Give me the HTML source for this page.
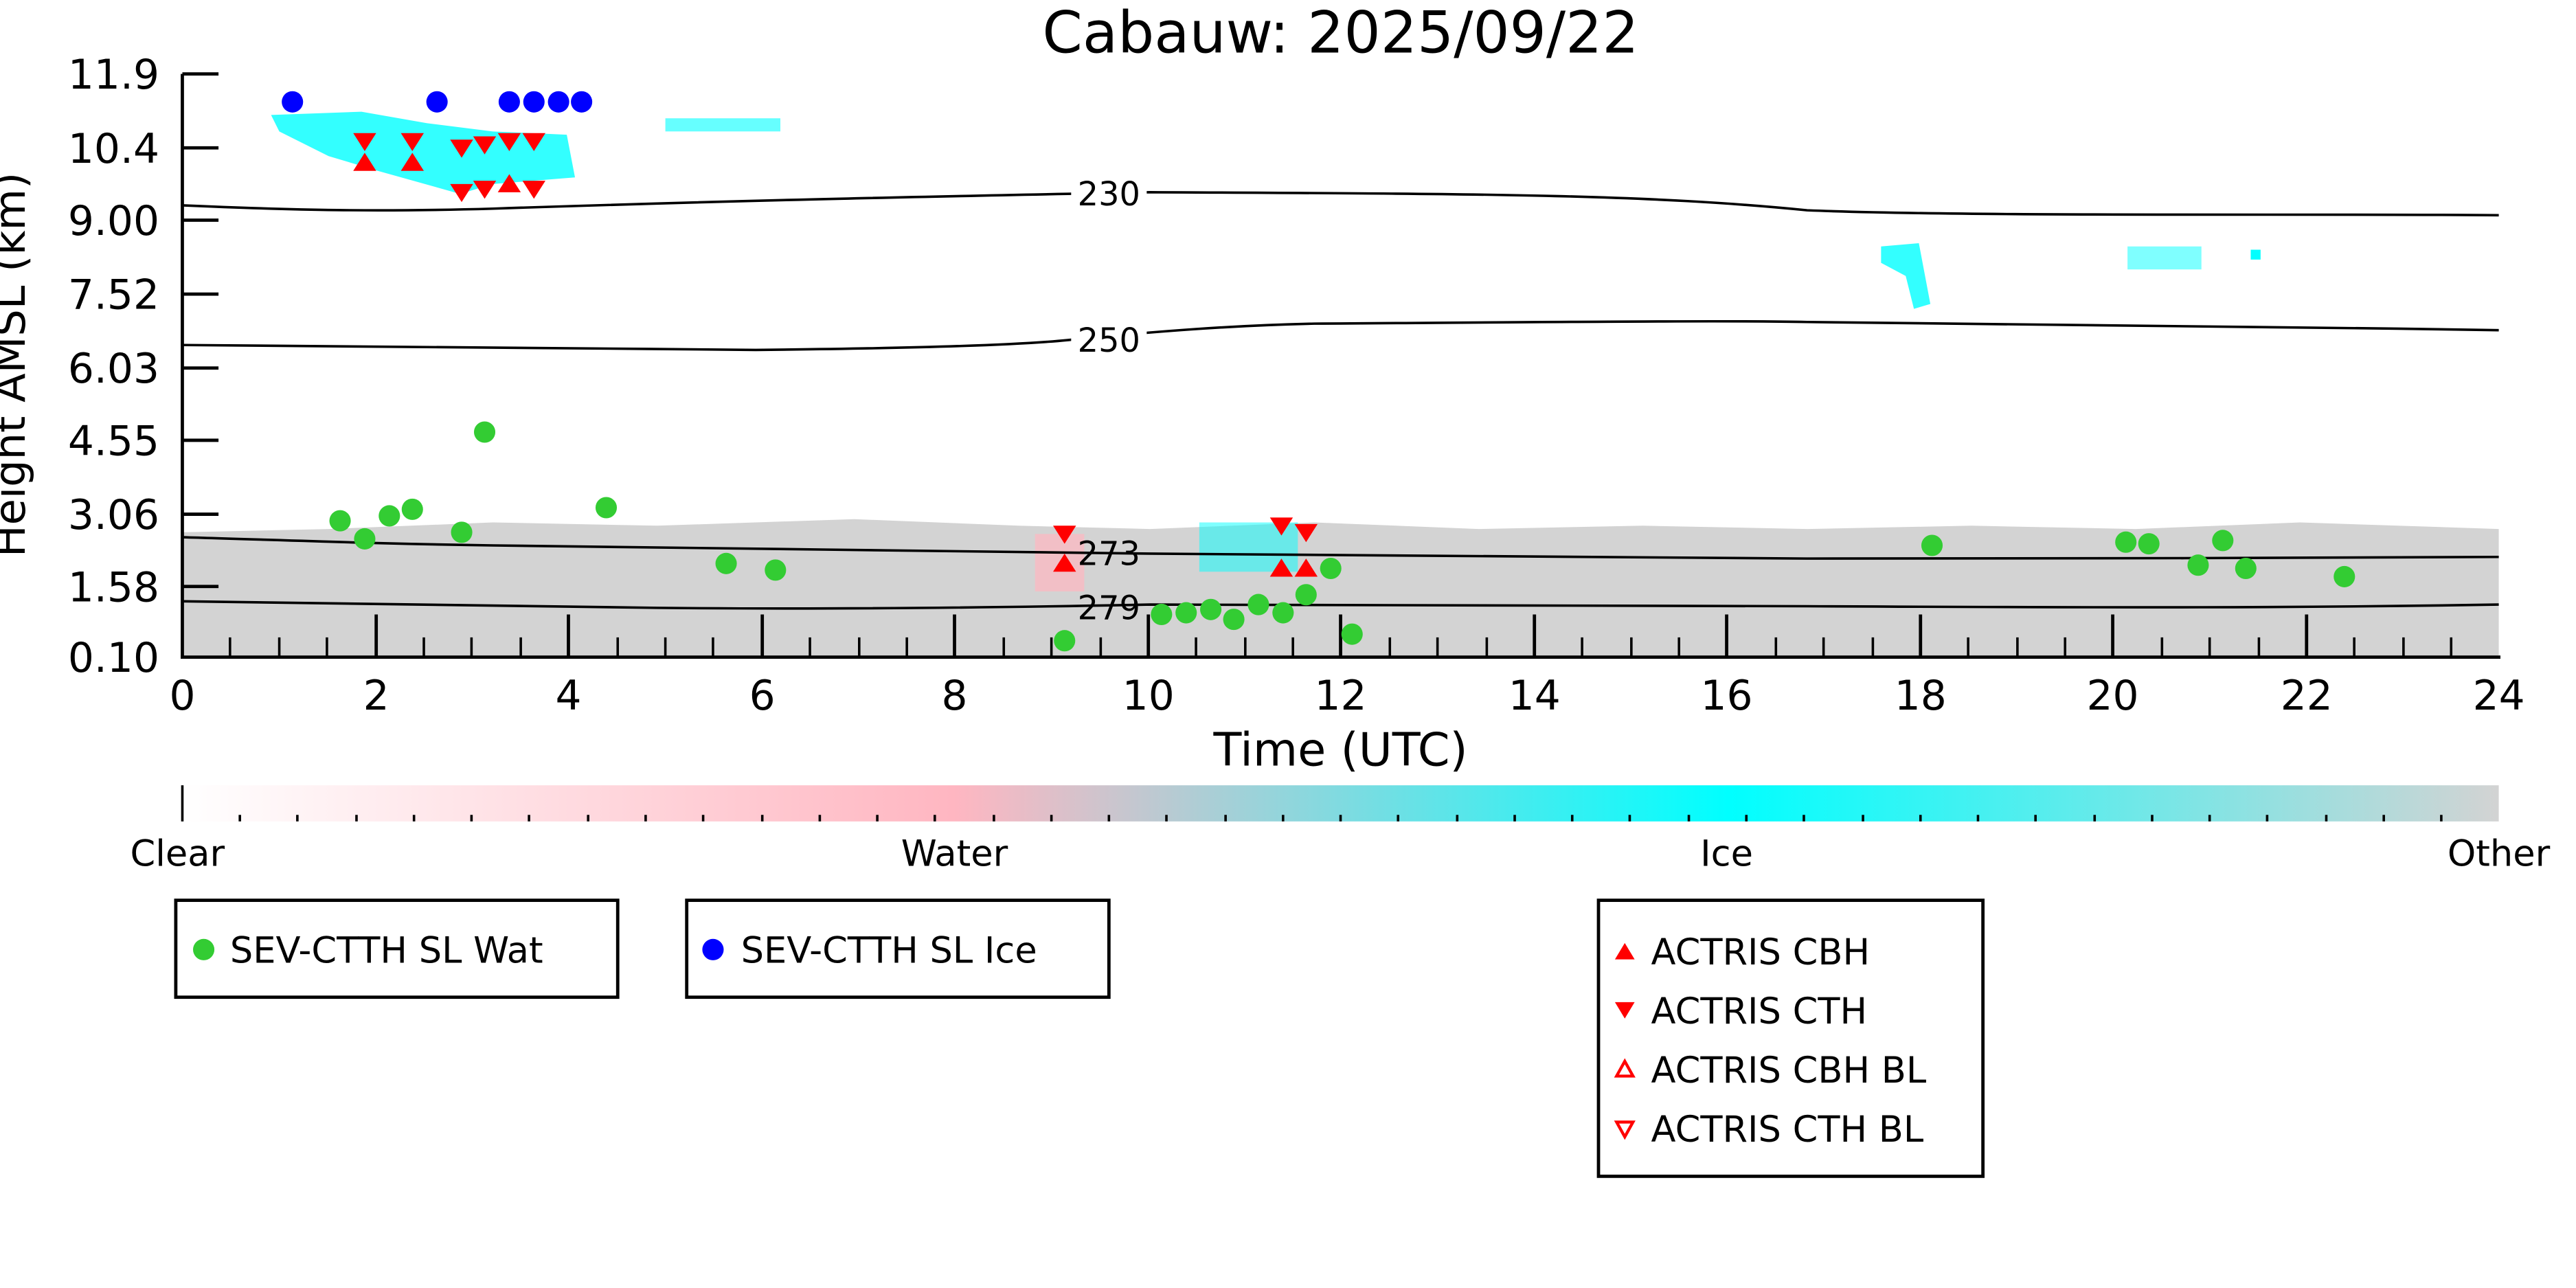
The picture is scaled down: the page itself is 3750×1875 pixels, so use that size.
<!DOCTYPE html>
<html><head><meta charset="utf-8"><style>
html,body{margin:0;padding:0;background:#fff;}
svg{display:block;}
text{font-family:"DejaVu Sans","Liberation Sans",sans-serif;}
</style></head><body>
<svg width="3750" height="1875" viewBox="0 0 1568 784" xmlns="http://www.w3.org/2000/svg">
<defs>
<linearGradient id="cb" x1="0" x2="1" y1="0" y2="0">
<stop offset="0" stop-color="#ffffff"/>
<stop offset="0.333" stop-color="#ffb6c1"/>
<stop offset="0.667" stop-color="#00ffff"/>
<stop offset="1" stop-color="#d3d3d3"/>
</linearGradient>
</defs>
<rect width="1568" height="784" fill="#fff"/>
<text x="816" y="32" font-size="35" text-anchor="middle">Cabauw: 2025/09/22</text>
<path d="M111,324 L200,322 L300,318 L400,320 L520,316 L620,320 L700,322 L800,318 L900,322 L1000,320 L1100,322 L1200,320 L1300,322 L1400,318 L1521,322 L1521,400 L111,400 Z" fill="#d3d3d3"/>
<path d="M165,70 L220,68 L260,75 L300,80 L345,82 L350,108 L300,112 L280,118 L230,104 L200,95 L170,80 Z" fill="#00ffff" opacity="0.8"/>
<rect x="405" y="72" width="70" height="8" fill="#00ffff" opacity="0.6"/>
<path d="M1145,150 L1168,148 L1175,185 L1165,188 L1160,168 L1145,160 Z" fill="#00ffff" opacity="0.8"/>
<rect x="1295" y="150" width="45" height="14" fill="#00ffff" opacity="0.5"/>
<rect x="1370" y="152" width="6" height="6" fill="#00ffff"/>
<rect x="730" y="318" width="60" height="30" fill="#00ffff" opacity="0.5"/>
<rect x="630" y="325" width="30" height="35" fill="#ffb6c1" opacity="0.7"/>
<g fill="none" stroke="#000" stroke-width="1.5">
<path d="M111,125 C180,128 230,129 300,127 C450,122 550,120 650,118 L700,117 C900,118 1000,118 1100,128 C1200,132 1400,130 1521,131"/>
<path d="M111,210 C250,211 350,212 460,213 C560,212 620,210 650,207 C700,202 750,198 800,197 C950,196 1050,195 1100,196 C1300,198 1400,199 1521,201"/>
<path d="M111,327 C180,329 230,331 300,332 C450,334 550,335 700,337 C850,338 1000,338 1100,340 C1200,341 1400,339 1521,339"/>
<path d="M111,366 C200,368 300,369 400,370 C500,371 600,370 700,368 C850,368 1000,368 1100,369 C1300,370 1400,370 1521,368"/>
</g>
<g font-size="20" text-anchor="middle">
<rect x="652" y="106" width="46" height="22" fill="#fff"/><text x="675" y="125">230</text>
<rect x="652" y="195" width="46" height="22" fill="#fff"/><text x="675" y="214">250</text>
<text x="675" y="344">273</text>
<text x="675" y="377">279</text>
</g>
<g stroke="#000" stroke-width="2" fill="none">
<line x1="111" y1="45" x2="111" y2="401"/>
<line x1="110" y1="400" x2="1522" y2="400"/>
</g>
<g stroke="#000" stroke-width="2">
<line x1="111" y1="45" x2="133" y2="45"/><line x1="111" y1="90" x2="133" y2="90"/>
<line x1="111" y1="134" x2="133" y2="134"/><line x1="111" y1="179" x2="133" y2="179"/>
<line x1="111" y1="224" x2="133" y2="224"/><line x1="111" y1="268" x2="133" y2="268"/>
<line x1="111" y1="313" x2="133" y2="313"/><line x1="111" y1="357" x2="133" y2="357"/>
</g>
<g stroke="#000" stroke-width="2">
<line x1="229" y1="400" x2="229" y2="374"/><line x1="346" y1="400" x2="346" y2="374"/>
<line x1="464" y1="400" x2="464" y2="374"/><line x1="581" y1="400" x2="581" y2="374"/>
<line x1="699" y1="400" x2="699" y2="374"/><line x1="816" y1="400" x2="816" y2="374"/>
<line x1="934" y1="400" x2="934" y2="374"/><line x1="1051" y1="400" x2="1051" y2="374"/>
<line x1="1169" y1="400" x2="1169" y2="374"/><line x1="1286" y1="400" x2="1286" y2="374"/>
<line x1="1404" y1="400" x2="1404" y2="374"/>
</g>
<g stroke="#000" stroke-width="1.5">
<path d="M140,400v-12M170,400v-12M199,400v-12M258,400v-12M287,400v-12M317,400v-12M376,400v-12M405,400v-12M434,400v-12M493,400v-12M523,400v-12M552,400v-12M611,400v-12M640,400v-12M670,400v-12M728,400v-12M758,400v-12M787,400v-12M846,400v-12M875,400v-12M905,400v-12M963,400v-12M993,400v-12M1022,400v-12M1081,400v-12M1110,400v-12M1140,400v-12M1198,400v-12M1228,400v-12M1257,400v-12M1316,400v-12M1345,400v-12M1375,400v-12M1433,400v-12M1463,400v-12M1492,400v-12"/>
</g>
<g font-size="25" text-anchor="end">
<text x="97" y="54">11.9</text><text x="97" y="99">10.4</text><text x="97" y="143">9.00</text>
<text x="97" y="188">7.52</text><text x="97" y="233">6.03</text><text x="97" y="277">4.55</text>
<text x="97" y="322">3.06</text><text x="97" y="366">1.58</text><text x="97" y="409">0.10</text>
</g>
<g font-size="25" text-anchor="middle">
<text x="111" y="432">0</text><text x="229" y="432">2</text><text x="346" y="432">4</text><text x="464" y="432">6</text>
<text x="581" y="432">8</text><text x="699" y="432">10</text><text x="816" y="432">12</text><text x="934" y="432">14</text>
<text x="1051" y="432">16</text><text x="1169" y="432">18</text><text x="1286" y="432">20</text><text x="1404" y="432">22</text>
<text x="1521" y="432">24</text>
</g>
<text x="816" y="466" font-size="28" text-anchor="middle">Time (UTC)</text>
<text transform="translate(15,222) rotate(-90)" font-size="26" text-anchor="middle">Height AMSL (km)</text>
<g fill="#0000ff">
<circle cx="178" cy="62" r="6.5"/><circle cx="266" cy="62" r="6.5"/><circle cx="310" cy="62" r="6.5"/>
<circle cx="325" cy="62" r="6.5"/><circle cx="340" cy="62" r="6.5"/><circle cx="354" cy="62" r="6.5"/>
</g>
<g fill="#33cc33">
<circle cx="207" cy="317" r="6.5"/><circle cx="222" cy="328" r="6.5"/><circle cx="237" cy="314" r="6.5"/>
<circle cx="251" cy="310" r="6.5"/><circle cx="281" cy="324" r="6.5"/><circle cx="295" cy="263" r="6.5"/>
<circle cx="369" cy="309" r="6.5"/><circle cx="442" cy="343" r="6.5"/><circle cx="472" cy="347" r="6.5"/>
<circle cx="648" cy="390" r="6.5"/><circle cx="707" cy="374" r="6.5"/><circle cx="722" cy="373" r="6.5"/>
<circle cx="737" cy="371" r="6.5"/><circle cx="751" cy="377" r="6.5"/><circle cx="766" cy="368" r="6.5"/>
<circle cx="781" cy="373" r="6.5"/><circle cx="795" cy="362" r="6.5"/><circle cx="810" cy="346" r="6.5"/>
<circle cx="823" cy="386" r="6.5"/><circle cx="1176" cy="332" r="6.5"/><circle cx="1294" cy="330" r="6.5"/>
<circle cx="1308" cy="331" r="6.5"/><circle cx="1338" cy="344" r="6.5"/><circle cx="1353" cy="329" r="6.5"/>
<circle cx="1367" cy="346" r="6.5"/><circle cx="1427" cy="351" r="6.5"/>
</g>
<g fill="#ff0000">
<path d="M215,81h14l-7,11z M244,81h14l-7,11z M274,85h14l-7,11z M288,83h14l-7,11z M303,81h14l-7,11z M318,81h14l-7,11z M274,112h14l-7,11z M288,110h14l-7,11z M318,110h14l-7,11z M641,320h14l-7,11z M773,315h14l-7,11z M788,319h14l-7,11z"/>
<path d="M215,104h14l-7,-11z M244,104h14l-7,-11z M303,117h14l-7,-11z M641,348h14l-7,-11z M773,351h14l-7,-11z M788,351h14l-7,-11z"/>
</g>
<rect x="111" y="478" width="1410" height="22" fill="url(#cb)"/>
<line x1="111" y1="478" x2="111" y2="500" stroke="#000" stroke-width="1.5"/>
<g stroke="#000" stroke-width="1.5">
<path d="M146,500v-4M181,500v-4M217,500v-4M252,500v-4M287,500v-4M322,500v-4M358,500v-4M393,500v-4M428,500v-4M464,500v-4M499,500v-4M534,500v-4M569,500v-4M605,500v-4M640,500v-4M675,500v-4M710,500v-4M746,500v-4M781,500v-4M816,500v-4M851,500v-4M887,500v-4M922,500v-4M957,500v-4M992,500v-4M1028,500v-4M1063,500v-4M1098,500v-4M1134,500v-4M1169,500v-4M1204,500v-4M1239,500v-4M1275,500v-4M1310,500v-4M1345,500v-4M1380,500v-4M1416,500v-4M1451,500v-4M1486,500v-4"/>
</g>
<g font-size="22" text-anchor="middle">
<text x="108" y="527">Clear</text><text x="581" y="527">Water</text><text x="1051" y="527">Ice</text><text x="1521" y="527">Other</text>
</g>
<g fill="#fff" stroke="#000" stroke-width="2">
<rect x="107" y="548" width="269" height="59"/>
<rect x="418" y="548" width="257" height="59"/>
<rect x="973" y="548" width="234" height="168"/>
</g>
<g font-size="22">
<circle cx="124" cy="578" r="6.5" fill="#33cc33"/><text x="140" y="586">SEV-CTTH SL Wat</text>
<circle cx="434" cy="578" r="6.5" fill="#0000ff"/><text x="451" y="586">SEV-CTTH SL Ice</text>
<path d="M983,584h12l-6,-10z" fill="#ff0000"/><text x="1005" y="587">ACTRIS CBH</text>
<path d="M983,610h12l-6,10z" fill="#ff0000"/><text x="1005" y="623">ACTRIS CTH</text>
<path d="M984,655h10l-5,-9z" fill="none" stroke="#ff0000" stroke-width="1.8"/><text x="1005" y="659">ACTRIS CBH BL</text>
<path d="M984,683h10l-5,9z" fill="none" stroke="#ff0000" stroke-width="1.8"/><text x="1005" y="695">ACTRIS CTH BL</text>
</g>
</svg>
</body></html>
